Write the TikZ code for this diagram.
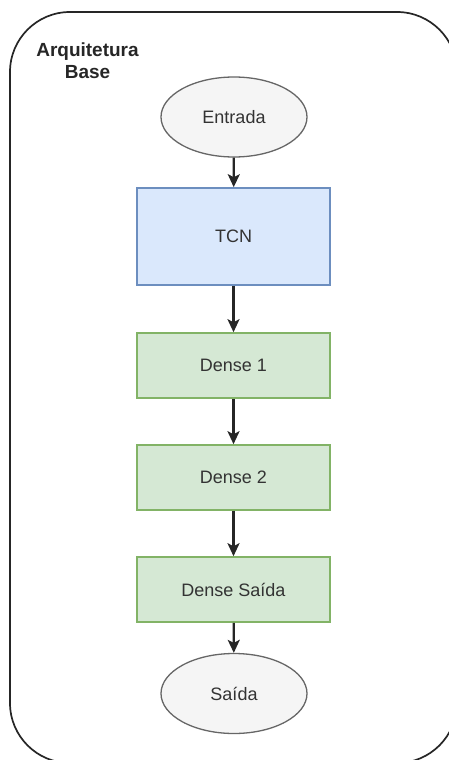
\documentclass[tikz,border=0pt]{standalone}
\usepackage{fontspec}
\setmainfont{Liberation Sans}
\usetikzlibrary{shapes.geometric,arrows.meta}

\definecolor{termfill}{HTML}{F5F5F5}
\definecolor{termline}{HTML}{666666}
\definecolor{bluefill}{HTML}{DAE8FC}
\definecolor{blueline}{HTML}{6C8EBF}
\definecolor{greenfill}{HTML}{D5E8D4}
\definecolor{greenline}{HTML}{82B366}
\definecolor{labeltext}{HTML}{333333}

\tikzset{
  nodefont/.style={text=labeltext, font=\fontsize{18}{21}\selectfont},
  terminal/.style={ellipse, draw=termline, fill=termfill, line width=1.3pt,
    minimum width=146pt, minimum height=80pt, inner sep=0pt, nodefont},
  tcnbox/.style={rectangle, draw=blueline, fill=bluefill, line width=1.6pt,
    minimum width=193pt, minimum height=97pt, inner sep=0pt, nodefont},
  densebox/.style={rectangle, draw=greenline, fill=greenfill, line width=1.6pt,
    minimum width=193pt, minimum height=65pt, inner sep=0pt, nodefont},
  flow/.style={draw=black!85, line width=2.2pt,
    -{Stealth[length=13pt, width=12pt, inset=3pt]}},
  frame/.style={draw=black!85, line width=1.7pt, rounded corners=60pt},
  title/.style={align=center, text=black!85, inner sep=0pt,
    font=\fontsize{19}{22}\selectfont\bfseries}
}

\begin{document}
\begin{tikzpicture}[x=1pt, y=-1pt]
  \path[use as bounding box] (0,0) rectangle (449,760);

  % outer container, running past the right and bottom edges
  \begin{scope}
    \clip (0,0) rectangle (449,760);
    \path[frame] (10,12) rectangle (457,763);
  \end{scope}

  \node[title] (title) at (87.5,61) {Arquitetura\\Base};

  \node[terminal] (entrada) at (234,117)   {Entrada};
  \node[tcnbox]   (tcn)     at (233.5,236.5) {TCN};
  \node[densebox] (dense1)  at (233.5,365.5) {Dense 1};
  \node[densebox] (dense2)  at (233.5,477.5) {Dense 2};
  \node[densebox] (denseout) at (233.5,589.5) {Dense Saída};
  \node[terminal] (saida)   at (234,693.5) {Saída};

  \draw[flow] (entrada) -- (tcn);
  \draw[flow] (tcn) -- (dense1);
  \draw[flow] (dense1) -- (dense2);
  \draw[flow] (dense2) -- (denseout);
  \draw[flow] (denseout) -- (saida);
\end{tikzpicture}
\end{document}
